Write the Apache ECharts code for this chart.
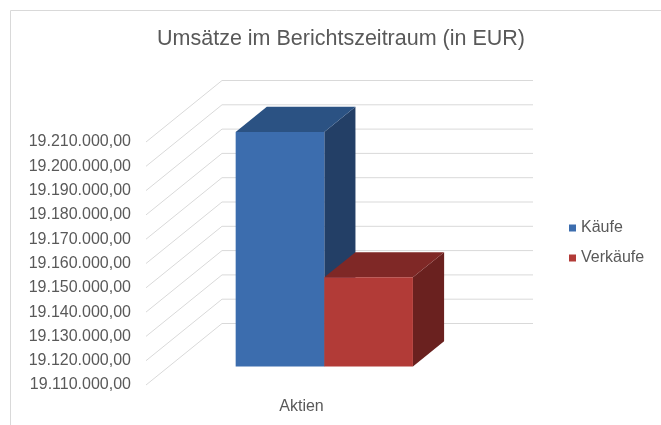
<!DOCTYPE html>
<html>
<head>
<meta charset="utf-8">
<script src="https://cdn.jsdelivr.net/npm/echarts@6/dist/echarts.min.js"></script>
<style>
  html, body { margin: 0; padding: 0; background: #fff; }
  #chart { width: 661px; height: 425px; }
</style>
</head>
<body>
<div id="chart"></div>
<script>
  // data
  var categories = ['Aktien'];
  var seriesNames = ['Käufe', 'Verkäufe'];
  var kaeufe = [19206500];
  var verkaeufe = [19146700];
  var yTicks = [19110000, 19120000, 19130000, 19140000, 19150000, 19160000,
    19170000, 19180000, 19190000, 19200000, 19210000];

  var yMin = yTicks[0];
  var yMax = yTicks[yTicks.length - 1];

  // fake 3d: how far the back wall is shifted from the front plane
  var DX = 76, DY = 61.5;
  var D0 = 0.30, D1 = 0.71;   // depth of bar front / back face
  var BAR_FRAC = 0.285;        // one bar width as part of the category band
  var textColor = '#595959';
  var gridColor = '#d9d9d9';

  function fmt(v) {
    var s = Math.round(v).toString();
    return s.replace(/\B(?=(\d{3})+(?!\d))/g, '.') + ',00';
  }

  function renderGrid(params, api) {
    var cs = params.coordSys;
    var y = api.coord([0, api.value(0)])[1];
    return {
      type: 'polyline',
      shape: {
        points: [[cs.x, y], [cs.x + DX, y - DY], [cs.x + cs.width + DX, y - DY]]
      },
      style: { stroke: gridColor, lineWidth: 1, fill: null }
    };
  }

  function makeBar(slot, colors) {
    return function (params, api) {
      var band = api.size([1, 0])[0];
      var p = api.coord([api.value(0), api.value(1)]);
      var base = api.coord([api.value(0), yMin])[1];
      var w = band * BAR_FRAC;
      var x0 = p[0] + (slot - 1) * w;
      var top = p[1];
      var ax = D0 * DX, ay = D0 * DY, bx = D1 * DX, by = D1 * DY;
      return {
        type: 'group',
        children: [{
          type: 'polygon',
          shape: { points: [[x0 + w + ax, top - ay], [x0 + w + bx, top - by],
            [x0 + w + bx, base - by], [x0 + w + ax, base - ay]] },
          style: { fill: colors[2] }
        }, {
          type: 'polygon',
          shape: { points: [[x0 + ax, top - ay], [x0 + w + ax, top - ay],
            [x0 + w + bx, top - by], [x0 + bx, top - by]] },
          style: { fill: colors[1] }
        }, {
          type: 'rect',
          shape: { x: x0 + ax, y: top - ay, width: w, height: base - top },
          style: { fill: colors[0] }
        }]
      };
    };
  }

  var blue = ['#3c6dae', '#2b5283', '#233f66'];
  var red = ['#b23b37', '#7f2826', '#6a211f'];

  var chart = echarts.init(document.getElementById('chart'));
  chart.setOption({
    animation: false,
    textStyle: { fontFamily: 'Liberation Sans, Arial, sans-serif' },
    graphic: [{
      type: 'rect',
      shape: { x: 10.5, y: 10.5, width: 700, height: 500 },
      style: { fill: null, stroke: gridColor, lineWidth: 1 },
      silent: true
    }],
    title: {
      text: 'Umsätze im Berichtszeitraum (in EUR)',
      left: 336,
      top: 23,
      textAlign: 'center',
      textStyle: { color: textColor, fontSize: 21.5, fontWeight: 'normal' }
    },
    legend: {
      orient: 'vertical',
      left: 569,
      top: 220,
      padding: 0,
      itemWidth: 7,
      itemHeight: 7,
      itemGap: 14,
      icon: 'rect',
      data: seriesNames,
      textStyle: { color: textColor, fontSize: 16 }
    },
    grid: { left: 146, right: 204, top: 142, bottom: 40 },
    xAxis: {
      type: 'category',
      data: categories,
      axisLine: { show: false },
      axisTick: { show: false },
      axisLabel: { color: textColor, fontSize: 16, margin: 14 }
    },
    yAxis: {
      type: 'value',
      min: yMin,
      max: yMax,
      interval: 10000,
      axisLine: { show: false },
      axisTick: { show: false },
      splitLine: { show: false },
      axisLabel: { color: textColor, fontSize: 16, margin: 15, formatter: fmt }
    },
    series: [{
      type: 'custom',
      renderItem: renderGrid,
      data: yTicks.map(function (v) { return [v]; }),
      silent: true,
      z: 1
    }, {
      name: seriesNames[0],
      type: 'custom',
      renderItem: makeBar(0, blue),
      itemStyle: { color: blue[0] },
      data: kaeufe.map(function (v, i) { return [i, v]; }),
      z: 2
    }, {
      name: seriesNames[1],
      type: 'custom',
      renderItem: makeBar(1, red),
      itemStyle: { color: red[0] },
      data: verkaeufe.map(function (v, i) { return [i, v]; }),
      z: 3
    }]
  });
</script>
</body>
</html>
